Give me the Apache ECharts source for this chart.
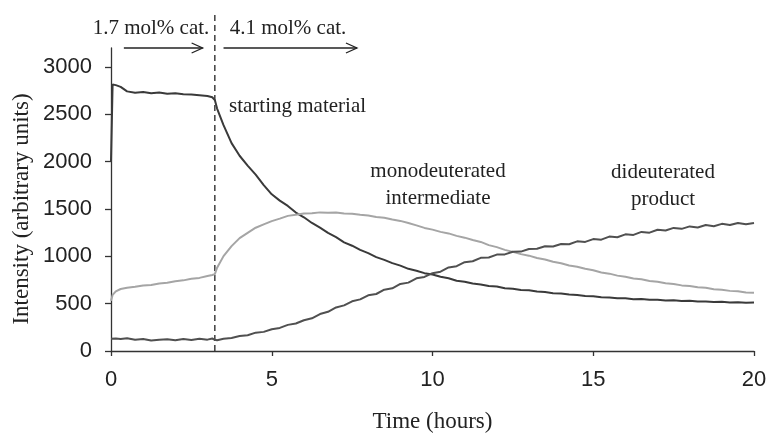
<!DOCTYPE html>
<html>
<head>
<meta charset="utf-8">
<script src="https://cdn.jsdelivr.net/npm/echarts@6/dist/echarts.min.js"></script>
<style>
html, body { margin: 0; padding: 0; background: #fff; }
#chart { width: 769px; height: 433px; }
</style>
</head>
<body>
<div id="chart"></div>
<script>
// time (hours)
var time = [0, 0.05, 0.15, 0.3, 0.5, 0.75, 1, 1.25, 1.5, 1.75, 2, 2.25, 2.5, 2.75, 3, 3.15, 3.23, 3.3,
  3.5, 3.75, 4, 4.25, 4.5, 4.75, 5, 5.25, 5.5, 5.75, 6, 6.25, 6.5, 6.75, 7, 7.25, 7.5, 7.75,
  8, 8.25, 8.5, 8.75, 9, 9.25, 9.5, 9.75, 10, 10.25, 10.5, 10.75, 11, 11.25, 11.5, 11.75,
  12, 12.25, 12.5, 12.75, 13, 13.25, 13.5, 13.75, 14, 14.25, 14.5, 14.75, 15, 15.25, 15.5, 15.75,
  16, 16.25, 16.5, 16.75, 17, 17.25, 17.5, 17.75, 18, 18.25, 18.5, 18.75, 19, 19.25, 19.5, 19.75, 20]

var startingMaterial = [2000, 2815, 2808, 2790, 2742, 2728, 2735, 2722, 2730, 2716, 2722, 2712, 2708, 2702, 2694, 2680, 2650, 2560,
  2385, 2195, 2062, 1958, 1862, 1752, 1655, 1588, 1532, 1462, 1412, 1352, 1302, 1248, 1203, 1148, 1112, 1068,
  1033, 992, 962, 928, 902, 868, 848, 822, 808, 785, 768, 742, 732, 712, 702, 686,
  682, 662, 657, 645, 642, 628, 622, 610, 607, 596, 592, 580, 577, 567, 566, 557,
  556, 547, 550, 541, 542, 534, 535, 527, 530, 522, 524, 517, 520, 513, 516, 509, 511]

var monodeuterated = [530, 592, 630, 655, 668, 678, 692, 698, 714, 720, 737, 746, 762, 772, 792, 803, 812, 880,
  1002, 1108, 1192, 1248, 1302, 1338, 1372, 1398, 1427, 1438, 1452, 1456, 1464, 1461, 1462, 1453, 1450, 1438,
  1432, 1416, 1407, 1388, 1374, 1352, 1327, 1300, 1282, 1258, 1242, 1216, 1197, 1173, 1152, 1118,
  1097, 1068, 1047, 1023, 1007, 983, 967, 943, 927, 903, 889, 868, 852, 830, 817, 796,
  784, 766, 757, 740, 732, 716, 708, 693, 687, 673, 667, 653, 647, 635, 630, 618, 614]

var dideuterated = [130, 142, 133, 126, 134, 118, 127, 110, 120, 124, 113, 127, 116, 130, 120, 132, 118, 114,
  130, 138, 158, 166, 194, 202, 230, 244, 276, 290, 325, 345, 390, 414, 460, 482, 525, 545,
  588, 602, 648, 662, 708, 722, 768, 782, 822, 838, 882, 896, 938, 948, 984, 988,
  1018, 1020, 1048, 1050, 1078, 1080, 1106, 1104, 1130, 1128, 1158, 1152, 1182, 1176, 1208, 1202,
  1232, 1226, 1258, 1250, 1280, 1272, 1300, 1290, 1316, 1305, 1330, 1318, 1343, 1330, 1352, 1338, 1352]

var xTicks = [0, 5, 10, 15, 20]
var yTicks = [0, 500, 1000, 1500, 2000, 2500, 3000]

var catalystTime = 3.23
// arrows: [from, to] in hours
var arrows = [[0.4, 2.85], [3.5, 7.65]]
var arrowLabels = ['1.7 mol% cat.', '4.1 mol% cat.']

var serif = '"Liberation Serif", "DejaVu Serif", serif'
var sans = '"Liberation Sans", Arial, sans-serif'
var textColor = '#222'

function pairs(values) {
  return time.map(function (t, i) { return [t, values[i]] })
}

var chart = echarts.init(document.getElementById('chart'))

var option = {
  animation: false,
  grid: { left: 111, right: 15, top: 48, bottom: 82, outerBoundsMode: 'none' },
  xAxis: {
    type: 'value',
    min: 0,
    max: 20,
    interval: 5,
    name: 'Time (hours)',
    nameLocation: 'middle',
    nameGap: 59,
    nameTextStyle: { fontFamily: serif, fontSize: 23, color: textColor },
    splitLine: { show: false },
    axisLine: { lineStyle: { color: '#333', width: 1.3 } },
    axisTick: { length: 5, lineStyle: { color: '#333', width: 1.3 }, customValues: xTicks },
    axisLabel: { margin: 18, fontFamily: sans, fontSize: 22, color: textColor, customValues: xTicks }
  },
  yAxis: {
    type: 'value',
    min: 0,
    max: 3200,
    interval: 500,
    splitLine: { show: false },
    axisLine: { show: true, lineStyle: { color: '#333', width: 1.3 } },
    axisTick: { show: true, length: 6, lineStyle: { color: '#333', width: 1.3 }, customValues: yTicks },
    axisLabel: {
      margin: 19, fontFamily: sans, fontSize: 22, color: textColor, customValues: yTicks,
      formatter: function (v) { return String(v) }
    }
  },
  series: [
    {
      name: 'starting material',
      type: 'line',
      data: pairs(startingMaterial),
      showSymbol: false,
      lineStyle: { color: '#3a3a3a', width: 2 }
    },
    {
      name: 'monodeuterated intermediate',
      type: 'line',
      data: pairs(monodeuterated),
      showSymbol: false,
      lineStyle: { color: '#a5a5a5', width: 2 }
    },
    {
      name: 'dideuterated product',
      type: 'line',
      data: pairs(dideuterated),
      showSymbol: false,
      lineStyle: { color: '#505050', width: 2 }
    }
  ]
}
chart.setOption(option)

// annotations, placed through the axes
function px(t, v) {
  return chart.convertToPixel({ gridIndex: 0 }, [t, v])
}
var graphics = []
var base = px(catalystTime, 0)
graphics.push({
  type: 'line',
  shape: { x1: base[0], y1: base[1], x2: base[0], y2: 12 },
  style: { stroke: '#222', lineWidth: 1.3, lineDash: [6, 4] }
})
var arrowY = 48
arrows.forEach(function (a) {
  var p1 = px(a[0], 0)[0]
  var p2 = px(a[1], 0)[0]
  graphics.push({
    type: 'line',
    shape: { x1: p1, y1: arrowY, x2: p2, y2: arrowY },
    style: { stroke: '#222', lineWidth: 1.3 }
  })
  graphics.push({
    type: 'polyline',
    shape: { points: [[p2 - 11, arrowY - 5], [p2, arrowY], [p2 - 11, arrowY + 5]] },
    style: { stroke: '#222', lineWidth: 1.3, fill: null }
  })
})
function label(text, x, y, align, size) {
  graphics.push({
    type: 'text', x: x, y: y,
    style: {
      text: text, font: size + 'px ' + serif, fill: textColor,
      align: align, verticalAlign: 'middle', lineHeight: 27
    }
  })
}
label(arrowLabels[0], 151, 28, 'center', 21)
label(arrowLabels[1], 288, 28, 'center', 21)
label('starting material', 229, 106, 'left', 21)
label('monodeuterated\nintermediate', 438, 185, 'center', 21)
label('dideuterated\nproduct', 663, 186, 'center', 21)
graphics.push({
  type: 'text', x: 22, y: 209, rotation: Math.PI / 2,
  style: { text: 'Intensity (arbitrary units)', font: '23px ' + serif, fill: textColor, align: 'center', verticalAlign: 'middle' }
})
chart.setOption({ graphic: graphics })
</script>
</body>
</html>
